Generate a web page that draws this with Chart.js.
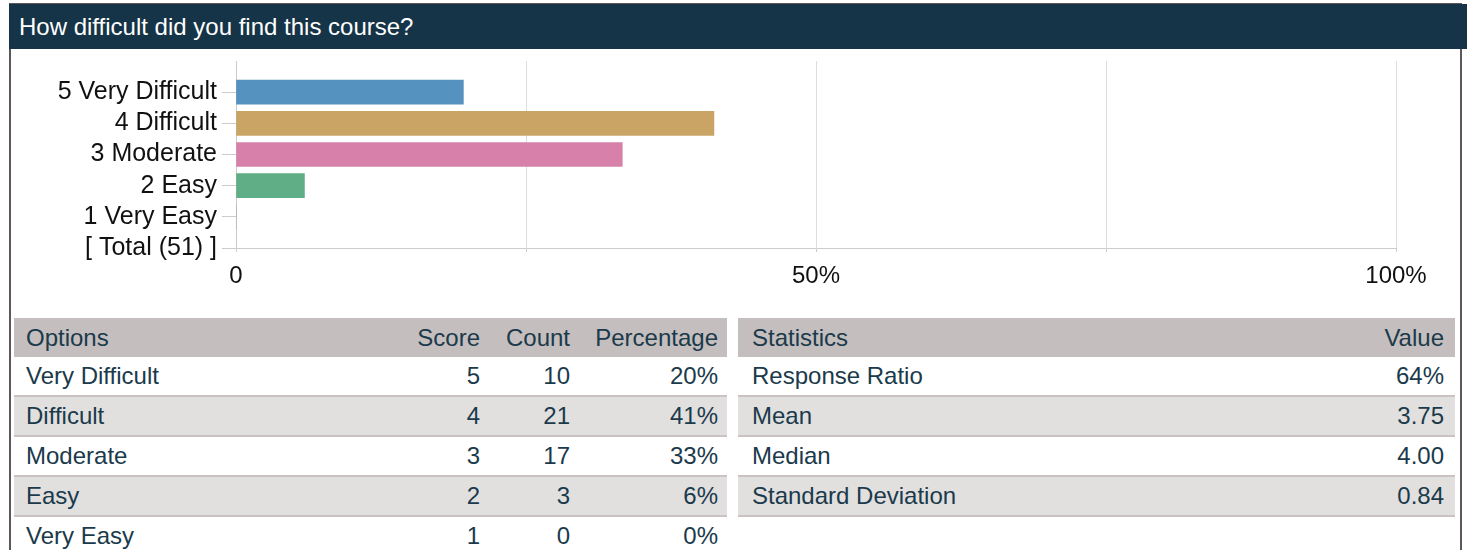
<!DOCTYPE html>
<html>
<head>
<meta charset="utf-8">
<script src="https://cdn.jsdelivr.net/npm/chart.js@4"></script>
<style>
  html, body { margin: 0; padding: 0; background: #fff; width: 1467px; height: 550px; overflow: hidden; font-family: "Liberation Sans", Arial, sans-serif; }
  #frame { position: absolute; left: 9px; top: 3px; width: 1449px; height: 560px; border-left: 2px solid #5e5657; border-right: 2px solid #5e5657; border-top: 2px solid #5e5657; }
  #title { position: absolute; left: 9px; top: 4px; width: 1458px; height: 45px; background: #163447; color: #fff; font-size: 24px; line-height: 45px; box-sizing: border-box; padding-left: 10px; }
  #chartBox { position: absolute; left: 0; top: 50px; width: 1467px; height: 255px; }
  table { position: absolute; top: 318px; border-collapse: collapse; font-size: 24px; color: #1b3a4b; }
  th { background: #c4bebe; font-weight: normal; height: 39px; padding: 0; }
  td { height: 38px; padding: 0; border-bottom: 2px solid #c9c3c3; }
  tr.alt td { background: #e1e0df; }
  .l { text-align: left; }
  .r { text-align: right; }
</style>
</head>
<body>
<div id="frame"></div>
<div id="title">How difficult did you find this course?</div>
<div id="chartBox"><canvas id="c"></canvas></div>
<table id="opt" style="left:14px;width:713px;"></table>
<table id="stat" style="left:738px;width:717px;"></table>
<script>
// ---- data ----
const categories = ['5 Very Difficult', '4 Difficult', '3 Moderate', '2 Easy', '1 Very Easy', '[ Total (51) ]'];
const barPercent = [19.6, 41.2, 33.3, 5.9, 0, null];
const barColors = ['#5592c0', '#c9a464', '#d680aa', '#5fae85', '#999999', '#999999'];
const xTickLabels = { 0: '0', 50: '50%', 100: '100%' };

const optionNames = ['Very Difficult', 'Difficult', 'Moderate', 'Easy', 'Very Easy'];
const optionScores = [5, 4, 3, 2, 1];
const optionCounts = [10, 21, 17, 3, 0];
const optionPercents = ['20%', '41%', '33%', '6%', '0%'];

const statNames = ['Response Ratio', 'Mean', 'Median', 'Standard Deviation'];
const statValues = ['64%', '3.75', '4.00', '0.84'];

// ---- chart ----
const axisLabels = [''].concat(categories);
const axisData = [null].concat(barPercent);
const axisColors = ['#999999'].concat(barColors);

new Chart(document.getElementById('c'), {
  type: 'bar',
  data: {
    labels: axisLabels,
    datasets: [{
      data: axisData,
      backgroundColor: axisColors,
      borderWidth: 0,
      barThickness: 24
    }]
  },
  options: {
    indexAxis: 'y',
    responsive: true,
    maintainAspectRatio: false,
    animation: false,
    layout: { padding: { left: 10, right: 71, top: 11, bottom: 12 } },
    plugins: { legend: { display: false }, tooltip: { enabled: false }, title: { display: false } },
    scales: {
      x: {
        min: 0, max: 100,
        afterFit: (s) => { s.height = 45; },
        ticks: {
          stepSize: 25, autoSkip: false, maxRotation: 0,
          color: '#111', font: { family: 'Liberation Sans', size: 24 }, padding: 10,
          callback: (v) => (xTickLabels[v] !== undefined ? xTickLabels[v] : '')
        },
        grid: { color: '#dddddd', tickLength: 4, tickColor: '#cccccc' },
        border: { color: '#cccccc' }
      },
      y: {
        offset: false,
        afterFit: (s) => { s.width = 226; s.paddingTop = 0; s.paddingBottom = 0; },
        ticks: { color: '#111', font: { family: 'Liberation Sans', size: 25 }, padding: 5, autoSkip: false },
        grid: {
          offset: false,
          drawOnChartArea: false, tickLength: 14,
          tickColor: (ctx) => (ctx.index === 0 ? 'rgba(0,0,0,0)' : '#cccccc')
        },
        border: { color: '#cccccc' }
      }
    }
  }
});

// ---- tables ----
function cell(tag, cls, text, style) {
  return '<' + tag + ' class="' + cls + '"' + (style ? ' style="' + style + '"' : '') + '>' + text + '</' + tag + '>';
}
let h = '<tr>' + cell('th', 'l', 'Options', 'padding-left:12px') + cell('th', 'r', 'Score', 'width:80px') +
        cell('th', 'r', 'Count', 'width:90px') + cell('th', 'r', 'Percentage', 'width:148px;padding-right:9px') + '</tr>';
optionNames.forEach((n, i) => {
  h += '<tr class="' + (i % 2 ? 'alt' : '') + '">' + cell('td', 'l', n, 'padding-left:12px') +
       cell('td', 'r', optionScores[i]) + cell('td', 'r', optionCounts[i]) +
       cell('td', 'r', optionPercents[i], 'padding-right:9px') + '</tr>';
});
document.getElementById('opt').innerHTML = h;

let s = '<tr>' + cell('th', 'l', 'Statistics', 'padding-left:14px') + cell('th', 'r', 'Value', 'padding-right:11px') + '</tr>';
statNames.forEach((n, i) => {
  s += '<tr class="' + (i % 2 ? 'alt' : '') + '">' + cell('td', 'l', n, 'padding-left:14px') +
       cell('td', 'r', statValues[i], 'padding-right:11px') + '</tr>';
});
document.getElementById('stat').innerHTML = s;
</script>
</body>
</html>
